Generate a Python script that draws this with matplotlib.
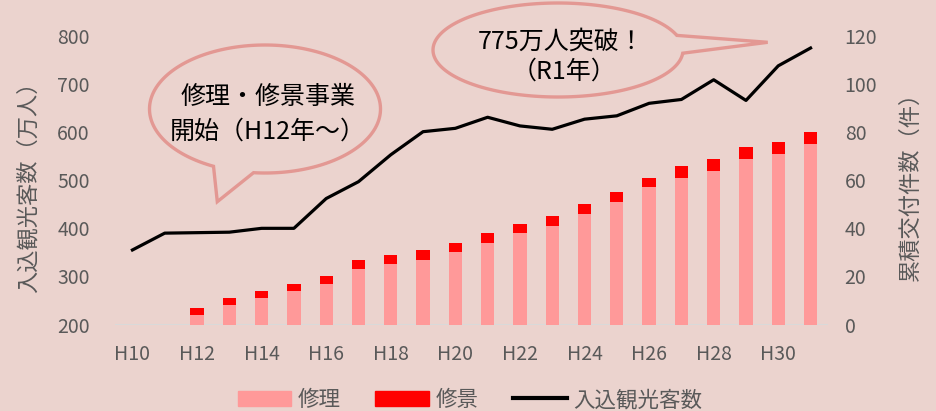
#入込観光客数と修理・修景の累積交付件数

import numpy as np
import matplotlib.pyplot as plt
from matplotlib.patches import Polygon, Patch
from matplotlib.lines import Line2D

plt.rcParams['font.family'] = ['Noto Sans CJK JP', 'DejaVu Sans']

years = ['H10', 'H11', 'H12', 'H13', 'H14', 'H15', 'H16', 'H17', 'H18', 'H19', 'H20',
         'H21', 'H22', 'H23', 'H24', 'H25', 'H26', 'H27', 'H28', 'H29', 'H30', 'R1']
visitors = [355, 390, 391, 392, 400, 400, 462, 497, 553, 601, 608,
            631, 613, 606, 627, 634, 660, 668, 709, 666, 738, 775]     # 万人
shuri = [0, 0, 4, 8, 11, 14, 17, 23, 25, 27, 30,
         34, 38, 41, 46, 51, 57, 61, 64, 69, 71, 75]                   # 件(累積)
shukei = [0, 0, 3, 3, 3, 3, 3, 4, 4, 4, 4,
          4, 4, 4, 4, 4, 4, 5, 5, 5, 5, 5]

bg = '#ebd3ce'
grey = '#595959'
pink = '#ff9999'
red = '#ff0000'
edge = '#e39893'

W, H = 936, 411
fig = plt.figure(figsize=(W / 100, H / 100), dpi=100, facecolor=bg)
ax = fig.add_axes([115 / W, 1 - 324.5 / H, (828 - 115) / W, (324.5 - 36) / H])
ax2 = ax.twinx()

x = np.arange(len(years))

# bars on the right axis
ax2.bar(x, shuri, width=0.41, color=pink, zorder=2)
ax2.bar(x, shukei, width=0.41, bottom=shuri, color=red, zorder=2)
ax2.set_ylim(0, 120)
ax2.set_yticks(range(0, 121, 20))

# line on the left axis, drawn above bars
ax.plot(x, visitors, color='black', lw=2.3, zorder=3)
ax.set_ylim(200, 800)
ax.set_yticks(range(200, 801, 100))
ax.set_zorder(ax2.get_zorder() + 1)
ax.patch.set_visible(False)
ax2.patch.set_facecolor(bg)

ax.set_xlim(-0.54, 21.54)
ax.set_xticks(x[::2])
ax.set_xticklabels(years[::2])

for a in (ax, ax2):
    for s in a.spines.values():
        s.set_visible(False)
    a.tick_params(length=0, labelsize=14, labelcolor=grey)
ax.tick_params(axis='y', pad=18)
ax2.tick_params(axis='y', pad=12)
ax.tick_params(axis='x', pad=14)
ax2.axhline(0, color='#d9d9d9', lw=1.5, zorder=1)

fig.text(28 / W, 1 - 182 / H, '入込観光客数（万人）', rotation=90, ha='center', va='center',
         fontsize=16, color=grey)
fig.text(910 / W, 1 - 181 / H, '累積交付件数（件）', rotation=90, ha='center', va='center',
         fontsize=16, color=grey)

# speech bubbles (pixel positions in the picture, y down)
def bubble(cx, cy, w, h, b1, tip, b2):
    a, b = w / 2, h / 2
    t1 = np.arctan2((b1[1] - cy) / b, (b1[0] - cx) / a)
    t2 = np.arctan2((b2[1] - cy) / b, (b2[0] - cx) / a)
    if (t2 - t1) % (2 * np.pi) > np.pi:
        t1, t2 = t2, t1
    # long way round from t2 back to t1
    span = 2 * np.pi - (t2 - t1) % (2 * np.pi)
    t = np.linspace(t2, t2 + span, 200)
    px = cx + a * np.cos(t)
    py = cy + b * np.sin(t)
    px = np.append(px, tip[0])
    py = np.append(py, tip[1])
    pts = np.column_stack([px / W, 1 - py / H])
    fig.patches.append(Polygon(pts, closed=True, facecolor=bg, edgecolor=edge, lw=2.4,
                               transform=fig.transFigure, figure=fig, zorder=5))

bubble(265, 109, 231, 128, (211.7, 168.3), (217.3, 201.7), (253, 175.7))
bubble(558, 50, 250, 94, (680, 35), (767.7, 42.3), (686.7, 53.3))

fig.text(268 / W, 1 - 97 / H, '修理・修景事業', ha='center', va='center', fontsize=18, zorder=6)
fig.text(268 / W, 1 - 132 / H, '開始（H12年～）', ha='center', va='center', fontsize=18, zorder=6)
fig.text(561 / W, 1 - 42 / H, '775万人突破！', ha='center', va='center', fontsize=18, zorder=6)
fig.text(564 / W, 1 - 72 / H, '（R1年）', ha='center', va='center', fontsize=18, zorder=6)

handles = [Patch(color=pink), Patch(color=red), Line2D([], [], color='black', lw=3)]
fig.legend(handles, ['修理', '修景', '入込観光客数'], loc='center', ncol=3,
           bbox_to_anchor=(470 / W, 1 - 400 / H), frameon=False, fontsize=15.5,
           labelcolor=grey, handlelength=2.5, handleheight=0.7, handletextpad=0.3,
           columnspacing=1.6, borderaxespad=0)

fig.savefig('out.png', dpi=100, facecolor=bg)
